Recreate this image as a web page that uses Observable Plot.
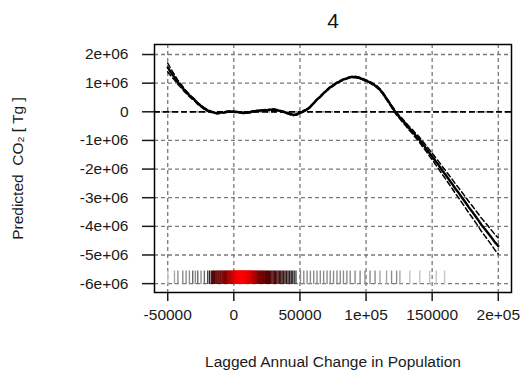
<!DOCTYPE html>
<html>
<head>
<meta charset="utf-8">
<script src="https://cdn.jsdelivr.net/npm/d3@7"></script>
<script src="https://cdn.jsdelivr.net/npm/@observablehq/plot@0.6"></script>
<style>
  html, body { margin: 0; padding: 0; background: #fff; }
  #chart svg { display: block; }
  #chart [aria-label$="tick"] { stroke-width: 1.5; }
  #chart .tick line { stroke-width: 1.5; }
</style>
</head>
<body>
<div id="chart"></div>
<script>
// Axis ticks and their printed labels (R-style scientific notation)
const xTicks = [-50000, 0, 50000, 100000, 150000, 200000];
const xTickLabels = ["-50000", "0", "50000", "1e+05", "150000", "2e+05"];
const yTicks = [2e6, 1e6, 0, -1e6, -2e6, -3e6, -4e6, -5e6, -6e6];
const yTickLabels = ["2e+06", "1e+06", "0", "-1e+06", "-2e+06", "-3e+06", "-4e+06", "-5e+06", "-6e+06"];

// Lagged annual change in population (thousands of people)
const popK = [
  -50, -47.5, -45, -42.5, -40, -37.5, -35, -32.5, -30, -27.5,
  -25, -22.5, -20, -17.5, -15, -12.5, -10, -7.5, -5, -2.5,
  0, 2.5, 5, 7.5, 10, 12.5, 15, 17.5, 20, 22.5,
  25, 27.5, 30, 32.5, 35, 37.5, 40, 42.5, 45, 47.5,
  50, 52.5, 55, 57.5, 60, 62.5, 65, 67.5, 70, 72.5,
  75, 77.5, 80, 82.5, 85, 87.5, 90, 92.5, 95, 97.5,
  100, 102.5, 105, 107.5, 110, 112.5, 115, 117.5, 120, 122.5,
  125, 127.5, 130, 132.5, 135, 137.5, 140, 142.5, 145, 147.5,
  150, 152.5, 155, 157.5, 160, 162.5, 165, 167.5, 170, 172.5,
  175, 177.5, 180, 182.5, 185, 187.5, 190, 192.5, 195, 197.5,
  200
];

// Smooth-term prediction of CO2 (millions of Tg)
const fitM = [
  1.55, 1.37, 1.21, 1.04, 0.91, 0.76, 0.64, 0.52, 0.43, 0.30,
  0.21, 0.12, 0.05, 0.01, -0.03, -0.05, -0.03, -0.02, 0.00, 0.01,
  0.00, -0.01, -0.02, -0.04, -0.03, -0.01, 0.02, 0.03, 0.04, 0.06,
  0.05, 0.07, 0.08, 0.06, 0.03, 0.00, -0.04, -0.08, -0.11, -0.09,
  -0.04, 0.02, 0.07, 0.16, 0.28, 0.41, 0.51, 0.63, 0.74, 0.84,
  0.92, 1.00, 1.06, 1.12, 1.16, 1.20, 1.22, 1.21, 1.18, 1.14,
  1.09, 1.04, 0.97, 0.90, 0.80, 0.66, 0.49, 0.32, 0.14, -0.03,
  -0.17, -0.30, -0.43, -0.57, -0.69, -0.83, -0.95, -1.11, -1.25, -1.41,
  -1.56, -1.72, -1.87, -2.04, -2.19, -2.35, -2.51, -2.68, -2.83, -2.99,
  -3.15, -3.32, -3.47, -3.63, -3.79, -3.96, -4.10, -4.25, -4.40, -4.56,
  -4.68
];

// Half-width of the confidence band (millions of Tg)
const bandM = [
  0.15, 0.12, 0.095, 0.075, 0.06, 0.05, 0.045, 0.04, 0.035, 0.03,
  0.03, 0.025, 0.025, 0.02, 0.02, 0.02, 0.02, 0.02, 0.02, 0.02,
  0.02, 0.02, 0.02, 0.02, 0.02, 0.02, 0.02, 0.02, 0.02, 0.02,
  0.02, 0.02, 0.02, 0.02, 0.02, 0.02, 0.02, 0.02, 0.02, 0.02,
  0.02, 0.02, 0.02, 0.02, 0.02, 0.02, 0.02, 0.02, 0.02, 0.02,
  0.02, 0.02, 0.02, 0.02, 0.02, 0.02, 0.025, 0.025, 0.025, 0.025,
  0.025, 0.025, 0.03, 0.03, 0.03, 0.03, 0.035, 0.035, 0.04, 0.045,
  0.05, 0.055, 0.06, 0.065, 0.07, 0.078, 0.085, 0.093, 0.10, 0.108,
  0.115, 0.122, 0.13, 0.137, 0.145, 0.152, 0.16, 0.167, 0.175, 0.182,
  0.19, 0.197, 0.205, 0.212, 0.22, 0.23, 0.24, 0.25, 0.26, 0.27,
  0.28
];

// Observed values of the covariate, drawn as a rug (thousands of people)
const rugK = [
  -49.9, -44.9, -42.3, -38.6, -36.1, -33.6, -31.1, -29.1, -27.3, -24.8, -22.3, -19.8, -18.4,
  -17, -16, -15.2, -14.5, -13.6, -12.8, -12, -11.3, -10.5, -9.8, -9, -8.3, -7.6, -7,
  -6.3, -5.7, -5, -4.4, -3.8, -3.2, -2.6, -2, -1.5, -1, -0.5, 0, 0.4, 0.8, 1.2, 1.6,
  2, 2.4, 2.8, 3.2, 3.6, 4, 4.4, 4.8, 5.2, 5.6, 6, 6.4, 6.8, 7.2, 7.6, 8, 8.4, 8.8,
  9.2, 9.6, 10, 10.4, 10.8, 11.2, 11.6, 12, 12.5, 13, 13.5, 14, 14.5, 15, 15.6, 16.2,
  16.8, 17.4, 18, 18.7, 19.4, 20.1, 20.8, 21.5, 22.3, 23, 23.8, 24.6, 25.4, 26.2, 27,
  27.9, 28.8, 29.7, 30.6, 31.5, 32.5, 33.5, 34.5, 35.5, 36.5, 37.6, 38.7, 39.8, 41,
  42.2, 43.4, 44.6, 45.8, 47,
  50.4, 52.9, 55.4, 57.9, 60.4, 62.9, 65.4, 67.9, 70.5, 72.9, 75.4, 78, 80.5, 82.9,
  85.5, 88, 91.7, 95.5, 99.2, 103, 106.8, 110.5, 115.5, 119.3, 123.1, 125.6, 133.1,
  140.6, 148.1, 153.1, 159.4
];
const rugBottom = -6.03e6;
const rugTop = -5.56e6;

const curve = popK.map((k, i) => ({
  x: k * 1000,
  fit: fitM[i] * 1e6,
  lo: (fitM[i] - bandM[i]) * 1e6,
  hi: (fitM[i] + bandM[i]) * 1e6
}));

// Rug ticks shaded by how many observations lie nearby
const rugShade = d3.scaleLinear()
  .domain([1, 3, 6, 10, 15, 21])
  .range(["#c4c4c4", "#8c8c8c", "#262626", "#5a0000", "#b40000", "#ff0000"])
  .clamp(true);
const rug = rugK.map(k => {
  const n = rugK.filter(o => Math.abs(o - k) <= 4).length;
  return { x: k * 1000, color: rugShade(n) };
});

const xLabel = new Map(xTicks.map((t, i) => [t, xTickLabels[i]]));
const yLabel = new Map(yTicks.map((t, i) => [t, yTickLabels[i]]));

const font = "'Liberation Sans', Arial, Helvetica, sans-serif";
const gridStyle = { stroke: "#7a7a7a", strokeWidth: 1.3, strokeDasharray: "4,3" };

const chart = Plot.plot({
  width: 521,
  height: 375,
  marginLeft: 154,
  marginRight: 10,
  marginTop: 44,
  marginBottom: 83,
  style: { fontFamily: font, fontSize: "15.5px", color: "#1a1a1a", background: "#fff" },
  x: {
    domain: [-60000, 210000],
    ticks: xTicks,
    tickFormat: d => xLabel.get(d),
    tickSize: 9,
    tickPadding: 7,
    label: null
  },
  y: {
    domain: [-6.31e6, 2.35e6],
    ticks: yTicks,
    tickFormat: d => yLabel.get(d),
    tickSize: 12,
    tickPadding: 14,
    label: null
  },
  color: { type: "identity" },
  marks: [
    Plot.ruleY(yTicks, gridStyle),
    Plot.ruleX(xTicks, gridStyle),
    Plot.ruleX(rug, { x: "x", y1: rugBottom, y2: rugTop, stroke: "color", strokeWidth: 1.4 }),
    Plot.ruleY([0], { stroke: "#000", strokeWidth: 1.8, strokeDasharray: "6,3" }),
    Plot.line(curve, { x: "x", y: "hi", stroke: "#000", strokeWidth: 1.5, strokeDasharray: "5,3" }),
    Plot.line(curve, { x: "x", y: "lo", stroke: "#000", strokeWidth: 1.5, strokeDasharray: "5,3" }),
    Plot.line(curve, { x: "x", y: "fit", stroke: "#000", strokeWidth: 2.4 }),
    Plot.frame({ stroke: "#000", strokeWidth: 1.5 }),
    Plot.text(["4"], { text: d => d, frameAnchor: "top", dy: -23, fontSize: 21, fill: "#111", lineAnchor: "middle" }),
    Plot.text(["Lagged Annual Change in Population"], { text: d => d, frameAnchor: "bottom", dy: 70, fontSize: 15.5, fill: "#1a1a1a", lineAnchor: "middle" }),
    Plot.text(["Predicted  CO\u2082 [ Tg ]"], { text: d => d, frameAnchor: "left", textAnchor: "middle", dx: -136, rotate: -90, fontSize: 15.5, fill: "#1a1a1a", lineAnchor: "middle" })
  ]
});

document.getElementById("chart").appendChild(chart);
</script>
</body>
</html>
